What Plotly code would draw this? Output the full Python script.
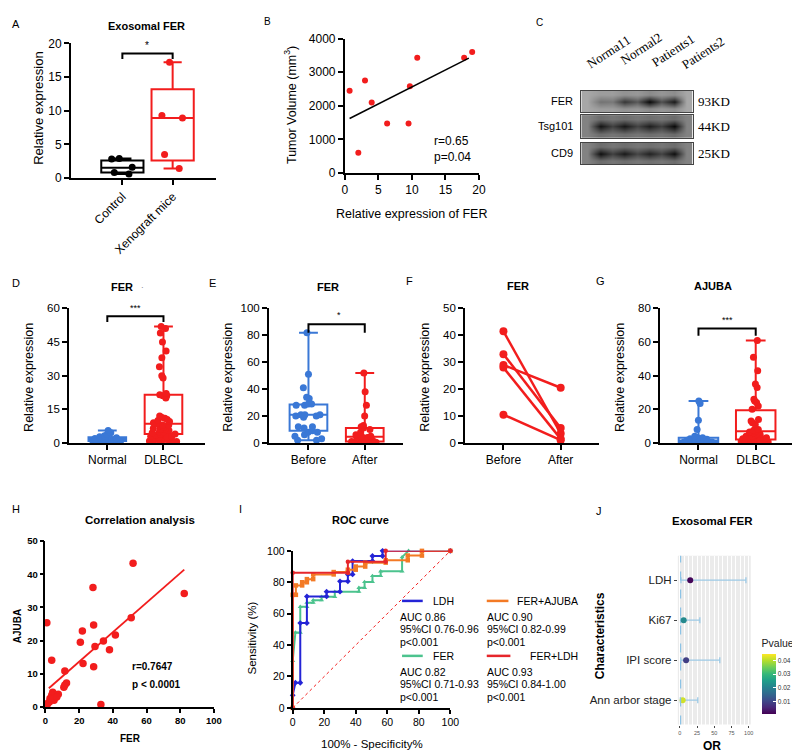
import numpy as np
import plotly.graph_objects as go

W, H = 800, 754
SANS = "Liberation Sans, Arial, sans-serif"
SERIF = "Liberation Serif, Times New Roman, serif"
RED = "#F21D1D"
BLUE = "#3A78D6"

# ---------------- data ----------------
# A
a_cats = ["Control", "Xenograft mice"]
a_q1 = [0.8, 2.6]; a_med = [1.5, 8.9]; a_q3 = [2.6, 13.2]; a_lo = [0.6, 1.4]; a_hi = [2.9, 17.2]
a_control = [2.9, 2.8, 1.6, 0.8, 0.6]
a_xeno = [17.2, 9.3, 8.9, 3.5, 1.4]
# B
b_fer = [0.7, 2.0, 3.0, 4.0, 6.3, 9.5, 9.7, 10.8, 17.8, 19.0]
b_vol = [2450, 600, 2750, 2100, 1470, 1470, 2580, 3430, 3430, 3600]
# C (band intensities, 0..1)
c_lanes = ["Norma11", "Normal2", "Patients1", "Patients2"]
c_rows = ["FER", "Tsg101", "CD9"]
c_kd = ["93KD", "44KD", "25KD"]
c_fer = [0.5, 0.78, 1.0, 0.92]
c_tsg = [0.95, 0.93, 0.9, 1.0]
c_cd9 = [0.97, 0.92, 0.88, 0.97]
c_bg = [0.22, 0.42, 0.42]
# D
d_cats = ["Normal", "DLBCL"]
d_q1 = [0.9, 4.0]; d_med = [1.6, 8.5]; d_q3 = [2.5, 21.5]; d_lo = [0.3, 0.5]; d_hi = [5.5, 52]
d_normal = [5.5, 4.5, 3.8, 3.2, 2.8, 2.5, 2.3, 2.1, 2.0, 1.8, 1.7, 1.5, 1.4, 1.2, 1.1, 1.0, 0.9, 0.8, 0.6, 0.5, 0.4, 0.3]
d_dlbcl = [52, 51, 49, 45, 41, 38, 34, 30, 29, 22, 21.5, 21, 21, 20, 12, 11.5, 11, 10.5, 10, 9.5, 9, 8.5, 8, 8,
           7.5, 7, 6.5, 6, 6, 5.5, 5, 5, 4.5, 4, 4, 3.5, 3, 3, 2.5, 2.5, 2, 2, 1.5, 1.5, 1, 1, 0.8, 0.6, 0.5, 0.5]
# E
e_cats = ["Before", "After"]
e_q1 = [9, 1]; e_med = [21, 4.5]; e_q3 = [28.5, 11]; e_lo = [2, 0.2]; e_hi = [82, 52]
e_before = [82, 51, 41, 34, 33, 29, 29, 28, 28, 21, 21, 21, 20, 20, 19, 12, 12, 11, 9, 8, 8, 6, 5, 3, 2, 2]
e_after = [52, 38, 28, 20, 13, 12, 11, 10, 8, 6, 5, 5, 4, 4, 3, 3, 2, 2, 1, 1, 0.5, 0.5, 0.3]
# F
f_before = [41.5, 33, 29, 28, 10.5]
f_after = [3.5, 5.5, 20.5, 1.5, 1.0]
# G
g_q1 = [0.5, 2]; g_med = [1.5, 7]; g_q3 = [3, 19.5]; g_lo = [0.2, 0.3]; g_hi = [25, 61]
g_normal = [25, 23.5, 13.5, 8, 4, 3.2, 3, 2.8, 2.5, 2.2, 2, 1.8, 1.6, 1.5, 1.3, 1.1, 1, 0.8, 0.6, 0.5, 0.3, 0.2]
g_dlbcl = [61, 51, 43, 35, 33, 26, 25, 24, 22, 20, 14, 13, 12, 11, 8, 7.5, 7, 6.5, 6, 5.5, 5, 4.5, 4, 4, 3.5,
           3, 3, 2.5, 2.5, 2, 2, 1.8, 1.5, 1.5, 1.2, 1, 1, 0.8, 0.5, 0.5, 0.3]
# H
h_fer = [0.8, 3.7, 11.5, 20.7, 21.9, 22.3, 28.2, 28.6, 29.4, 28.6, 34.4, 38.0, 41.5, 50.9, 52.0, 82.4, 32.9,
         12.5, 10.9, 7.6, 4.3, 3.7, 5.1, 2.3, 0.8, 1.2, 6.7, 11.5, 2.7]
h_ajuba = [25.4, 14.1, 10.8, 19.5, 22.9, 13.1, 36.0, 24.7, 18.2, 12.1, 19.9, 17.2, 21.7, 26.9, 43.3, 34.2, 0.7,
           7.2, 5.9, 3.8, 4.4, 3.5, 2.0, 1.5, 0.5, 1.0, 3.0, 6.6, 2.5]
# I (ROC)
ldh_fpr = [0, 0, 1.7, 4.8, 4.8, 9, 9, 21.5, 21.5, 30, 30, 35, 35, 38, 38, 50.6, 50.6, 57, 57, 100]
ldh_tpr = [0, 8, 16, 16, 54, 54, 71, 71, 74, 74, 80.6, 80.6, 85, 85, 93.5, 93.5, 96.7, 96.7, 100, 100]
fer_fpr = [0, 0, 1.7, 4.8, 4.8, 9, 9, 13, 13, 18.3, 18.3, 26.7, 26.7, 42, 42, 45.6, 45.6, 50.6, 50.6, 55.8,
           55.8, 69.4, 69.4, 73.5, 100]
fer_tpr = [0, 30, 48, 48, 64.4, 64.4, 67, 67, 68.6, 68.6, 70.7, 70.7, 74, 74, 76.5, 76.5, 80.2, 80.2, 84, 84,
           87, 87, 96, 100, 100]
fa_fpr = [0, 0, 2, 2, 6, 6, 9, 9, 13, 13, 26, 26, 35, 35, 40, 40, 46, 46, 59, 59, 73, 73, 82, 82, 100]
fa_tpr = [0, 72, 72, 78, 78, 80, 80, 82, 82, 85, 85, 86.5, 86.5, 88, 88, 90, 90, 92.5, 92.5, 94, 94, 97, 97, 100, 100]
fl_fpr = [0, 0, 35, 35, 59, 59, 100]
fl_tpr = [0, 86, 86, 93, 93, 100, 100]
roc_names = ["LDH", "FER+AJUBA", "FER", "FER+LDH"]
roc_auc = ["AUC 0.86", "AUC 0.90", "AUC 0.82", "AUC 0.93"]
roc_ci = ["95%CI 0.76-0.96", "95%CI 0.82-0.99", "95%CI 0.71-0.93", "95%CI 0.84-1.00"]
roc_p = ["p<0.001", "p<0.001", "p<0.001", "p<0.001"]
# J
j_chars = ["LDH", "Ki67", "IPI score", "Ann arbor stage"]
j_or = [15, 5.5, 9, 4]
j_low = [1.5, 1.0, 1.3, 0.6]
j_high = [96, 29, 58, 26]
j_p = [0.002, 0.022, 0.0095, 0.042]
j_ref = 1

# ---------------- helpers ----------------
fig = go.Figure()
layout = {}
annotations = []
shapes = []


def xd(a, b):
    return [a / W, b / W]


def yd(t, b):
    return [1 - b / H, 1 - t / H]


def keys(i):
    s = "" if i == 1 else str(i)
    return "xaxis" + s, "yaxis" + s, "x" + s, "y" + s


def gp(**kw):
    d = dict(showline=True, linecolor="black", linewidth=2, ticks="outside", ticklen=5, tickwidth=2,
             tickcolor="black", showgrid=False, zeroline=False, fixedrange=True,
             tickfont=dict(family=SANS, size=12, color="black"))
    d.update(kw)
    return d


def set_axes(i, xdom, ydom, xkw, ykw):
    xa, ya, xr, yr = keys(i)
    layout[xa] = dict(domain=xdom, anchor=yr, **xkw)
    layout[ya] = dict(domain=ydom, anchor=xr, **ykw)
    return xr, yr


def ann(x, y, text, size=11, bold=False, angle=0, xa="center", ya="middle", color="black", family=SANS):
    annotations.append(dict(x=x / W, y=1 - y / H, xref="paper", yref="paper", text=text, showarrow=False,
                            font=dict(family=family, size=size, color=color,
                                      weight="bold" if bold else "normal"),
                            textangle=angle, xanchor=xa, yanchor=ya))


def box_panel(xr, yr, cats, q1, med, q3, lo, hi, groups, colors, width, ww, msize=6, jitter=0.9):
    for k, c in enumerate(cats):
        fig.add_trace(go.Box(x=[c], q1=[q1[k]], median=[med[k]], q3=[q3[k]], lowerfence=[lo[k]],
                             upperfence=[hi[k]], boxpoints=False, line=dict(color=colors[k], width=2),
                             fillcolor="rgba(255,255,255,0)", width=width, whiskerwidth=ww,
                             xaxis=xr, yaxis=yr))
    for k, c in enumerate(cats):
        vals = groups[k]
        fig.add_trace(go.Box(x=[c] * len(vals), y=vals, boxpoints="all", jitter=jitter, pointpos=0,
                             marker=dict(color=colors[k], size=msize), line=dict(width=0, color="rgba(0,0,0,0)"),
                             fillcolor="rgba(0,0,0,0)", width=width, xaxis=xr, yaxis=yr))


def bracket(xr, yr, cats, top, bottom):
    fig.add_trace(go.Scatter(x=[cats[0], cats[0], cats[1], cats[1]], y=[bottom, top, top, bottom],
                             mode="lines", line=dict(color="black", width=2), xaxis=xr, yaxis=yr))


# ---------------- A ----------------
xr, yr = set_axes(1, xd(61, 208), yd(29, 166),
                  gp(type="category", categoryarray=a_cats, range=[-1.02, 1.86], tickangle=-45),
                  gp(range=[0, 20], dtick=5))
box_panel(xr, yr, a_cats, a_q1, a_med, a_q3, a_lo, a_hi, [a_control, a_xeno], ["black", RED], 0.84, 0.43,
          msize=7, jitter=0.6)
bracket(xr, yr, a_cats, 18.5, 17.7)
ann(5, 9, "A", 11)
ann(138, 11, "Exosomal FER", 11, bold=True)
ann(138, 31, "*", 10)
ann(28, 95, "Relative expression", 13, angle=-90)

# ---------------- B ----------------
xr, yr = set_axes(2, xd(339, 475), yd(24, 161), gp(range=[0, 20], dtick=5), gp(range=[0, 4000], dtick=1000))
fig.add_trace(go.Scatter(x=b_fer, y=b_vol, mode="markers", marker=dict(color=RED, size=6), xaxis=xr, yaxis=yr))
bk, bb = np.polyfit(b_fer, b_vol, 1)
bx = np.array([min(b_fer), 18.5])
fig.add_trace(go.Scatter(x=bx, y=bk * bx + bb, mode="lines", line=dict(color="black", width=1.5),
                         xaxis=xr, yaxis=yr))
ann(260, 7, "B", 10)
ann(427, 128, "r=0.65", 12, xa="left")
ann(427, 145, "p=0.04", 12, xa="left")
ann(284, 92, "Tumor Volume (mm<sup>3</sup>)", 12.5, angle=-90)
ann(407, 203, "Relative expression of FER", 12.5)

# ---------------- C (western blot) ----------------
row_px = [(77, 99), (102, 125), (130, 152)]
row_int = [c_fer, c_tsg, c_cd9]
for r in range(3):
    i = 3 + r
    xr, yr = set_axes(i, xd(579, 692), yd(*row_px[r]),
                      dict(range=[-0.5, 8.5], showline=True, mirror=True, linecolor="#444", linewidth=1,
                           showticklabels=False, ticks="", showgrid=False, zeroline=False, fixedrange=True),
                      dict(range=[-0.5, 2.5], showline=True, mirror=True, linecolor="#444", linewidth=1,
                           showticklabels=False, ticks="", showgrid=False, zeroline=False, fixedrange=True))
    bg = c_bg[r]
    vals = row_int[r]
    mid = [bg]
    for k, v in enumerate(vals):
        mid.append(v)
        if k < len(vals) - 1:
            mid.append(bg + 0.6 * ((vals[k] + vals[k + 1]) / 2 - bg))
    mid.append(bg)
    edge = [bg + 0.2 * (m - bg) for m in mid]
    z = [edge, mid, edge]
    fig.add_trace(go.Heatmap(z=z, x=list(range(9)), y=[0, 1, 2], zmin=0, zmax=1, zsmooth="best",
                             colorscale=[[0, "#cfcfcf"], [0.45, "#7d7d7d"], [1, "#080808"]],
                             showscale=False, xaxis=xr, yaxis=yr, hoverinfo="skip"))
    yc = (row_px[r][0] + row_px[r][1]) / 2
    ann(573, yc, c_rows[r], 11, xa="right")
    ann(695, yc, c_kd[r], 13, xa="left", family=SERIF)
lane_pos = [(607, 37), (640, 34), (672, 36), (703, 38)]
for k, name in enumerate(c_lanes):
    ann(lane_pos[k][0], lane_pos[k][1], name, 13, angle=-33, family=SERIF)
ann(537, 8, "C", 10)

# ---------------- D ----------------
xr, yr = set_axes(6, xd(59, 197), yd(299, 436),
                  gp(type="category", categoryarray=d_cats, range=[-0.68, 1.74]),
                  gp(range=[0, 60], dtick=15, tickfont=dict(family=SANS, size=11.5)))
box_panel(xr, yr, d_cats, d_q1, d_med, d_q3, d_lo, d_hi, [d_normal, d_dlbcl], [BLUE, RED], 0.67, 0.5, msize=7)
bracket(xr, yr, d_cats, 56.5, 53.9)
ann(5, 273, "D", 11)
ann(113, 277, "FER", 11, bold=True)
ann(133, 278, "·", 8, color="#666")
ann(126, 299, "***", 9)
ann(18, 369, "Relative expression", 12.5, angle=-90)

# ---------------- E ----------------
xr, yr = set_axes(7, xd(262, 398), yd(299, 436),
                  gp(type="category", categoryarray=e_cats, range=[-0.70, 1.68]),
                  gp(range=[0, 100], dtick=20, tickfont=dict(family=SANS, size=11.5)))
box_panel(xr, yr, e_cats, e_q1, e_med, e_q3, e_lo, e_hi, [e_before, e_after], [BLUE, RED], 0.67, 0.5, msize=7)
bracket(xr, yr, e_cats, 88.3, 82)
ann(205, 273, "E", 11)
ann(322, 277, "FER", 11, bold=True)
ann(333, 306, "*", 9)
ann(220, 369, "Relative expression", 12.5, angle=-90)

# ---------------- F ----------------
xr, yr = set_axes(8, xd(461, 597), yd(299, 436),
                  gp(type="category", categoryarray=e_cats, range=[-0.67, 1.67]),
                  gp(range=[0, 50], dtick=10, tickfont=dict(family=SANS, size=11.5)))
for b, a in zip(f_before, f_after):
    fig.add_trace(go.Scatter(x=e_cats, y=[b, a], mode="lines+markers", line=dict(color=RED, width=2.5),
                             marker=dict(color=RED, size=8), xaxis=xr, yaxis=yr))
ann(405, 271, "F", 11)
ann(515, 276, "FER", 11, bold=True)
ann(420, 369, "Relative expression", 12.5, angle=-90)

# ---------------- G ----------------
xr, yr = set_axes(9, xd(659, 795), yd(299, 436),
                  gp(type="category", categoryarray=d_cats, range=[-0.67, 1.67]),
                  gp(range=[0, 80], dtick=20, tickfont=dict(family=SANS, size=11.5)))
box_panel(xr, yr, d_cats, g_q1, g_med, g_q3, g_lo, g_hi, [g_normal, g_dlbcl], [BLUE, RED], 0.69, 0.5, msize=7)
bracket(xr, yr, d_cats, 68.1, 63.8)
ann(598, 271, "G", 11)
ann(713, 276, "AJUBA", 11, bold=True)
ann(727, 311, "***", 9)
ann(618, 369, "Relative expression", 12.5, angle=-90)

# ---------------- H ----------------
hfont = dict(family=SANS, size=9.5, color="black", weight="bold")
xr, yr = set_axes(10, xd(35, 206), yd(536, 705),
                  gp(range=[0, 100], dtick=20, tickfont=hfont, linewidth=1.5, tickwidth=1.5, ticklen=4),
                  gp(range=[0, 50], dtick=10, tickfont=hfont, linewidth=1.5, tickwidth=1.5, ticklen=4))
hk, hb = np.polyfit(h_fer, h_ajuba, 1)
hx = np.array([2.0, max(h_fer)])
fig.add_trace(go.Scatter(x=hx, y=hk * hx + hb, mode="lines", line=dict(color=RED, width=1.8),
                         xaxis=xr, yaxis=yr))
fig.add_trace(go.Scatter(x=h_fer, y=h_ajuba, mode="markers", marker=dict(color=RED, size=7.5),
                         xaxis=xr, yaxis=yr, cliponaxis=False))
ann(5, 503, "H", 11)
ann(131, 515, "Correlation analysis", 11.5, bold=True)
ann(121, 664, "r=0.7647", 10, bold=True, xa="left")
ann(121, 682, "p < 0.0001", 10, bold=True, xa="left")
ann(121, 737, "FER", 10, bold=True)
ann(7, 623, "AJUBA", 10, bold=True, angle=-90)

# ---------------- I (ROC) ----------------
ifont = dict(family=SANS, size=10.5, color="black")
xr, yr = set_axes(11, xd(286, 446), yd(546, 706),
                  gp(range=[0, 100], dtick=20, tickfont=ifont, ticklen=4),
                  gp(range=[0, 100], dtick=20, tickfont=ifont, ticklen=4))
fig.add_trace(go.Scatter(x=[0, 100], y=[0, 100], mode="lines", line=dict(color=RED, width=1, dash="dot"),
                         xaxis=xr, yaxis=yr))
roc_cols = {"LDH": "#2424D6", "FER+AJUBA": "#F37A25", "FER": "#4CC38E", "FER+LDH": "#E6262B"}
roc_sym = {"LDH": "diamond", "FER+AJUBA": "square", "FER": "triangle-up", "FER+LDH": "circle"}
roc_data = {"FER": (fer_fpr, fer_tpr), "LDH": (ldh_fpr, ldh_tpr), "FER+AJUBA": (fa_fpr, fa_tpr),
            "FER+LDH": (fl_fpr, fl_tpr)}
for name in ["FER", "LDH", "FER+AJUBA", "FER+LDH"]:
    fx, fy = roc_data[name]
    fig.add_trace(go.Scatter(x=fx, y=fy, mode="lines+markers", line=dict(color=roc_cols[name], width=2),
                             marker=dict(color=roc_cols[name], size=4.5, symbol=roc_sym[name]),
                             xaxis=xr, yaxis=yr, cliponaxis=False))
ann(233, 503, "I", 11)
ann(355, 515, "ROC curve", 11, bold=True)
ann(245, 635, "Sensitivity (%)", 11.5, angle=-90)
ann(367, 743, "100% - Specificity%", 11.5)
leg = {"LDH": (397, 418, 452, 393, 597), "FER+AJUBA": (483, 505, 578, 481, 597),
       "FER": (397, 418, 452, 393, 653), "FER+LDH": (483, 507, 578, 481, 653)}
for k, name in enumerate(roc_names):
    x0, x1, xt, xl, ly = leg[name]
    shapes.append(dict(type="line", xref="paper", yref="paper", x0=x0 / W, x1=x1 / W, y0=1 - ly / H,
                       y1=1 - ly / H, line=dict(color=roc_cols[name], width=2.5)))
    ann(xt, ly, name, 10.5, xa="right")
    ann(xl, ly + 16, roc_auc[k], 10.5, xa="left")
    ann(xl, ly + 29, roc_ci[k], 10.5, xa="left")
    ann(xl, ly + 42, roc_p[k], 10.5, xa="left")

# ---------------- J ----------------
xr, yr = set_axes(12, xd(677, 751), yd(551, 723),
                  dict(range=[-3, 103], tickvals=[0, 25, 50, 75, 100], showline=False, zeroline=False,
                       showgrid=True, gridcolor="white", gridwidth=0.8,
                       minor=dict(dtick=6.25, tick0=0, showgrid=True, gridcolor="white", gridwidth=0.4),
                       ticks="outside", ticklen=2.5, tickcolor="#444", tickwidth=0.8,
                       tickfont=dict(family=SANS, size=5.5, color="#555"), fixedrange=True),
                  dict(type="category", categoryarray=j_chars[::-1], range=[-0.61, 3.61], showline=False,
                       showgrid=False, zeroline=False, ticks="outside", ticklen=3, tickcolor="#444",
                       tickwidth=0.8, tickfont=dict(family=SANS, size=11.5, color="#222"), fixedrange=True))
shapes.append(dict(type="rect", xref="x12 domain", yref="y12 domain", x0=0, x1=1, y0=0, y1=1,
                   fillcolor="#EBEBEB", line=dict(width=0), layer="below"))
shapes.append(dict(type="line", xref="x12", yref="y12 domain", x0=j_ref, x1=j_ref, y0=0, y1=1,
                   line=dict(color="#8CC3E6", width=1.2, dash="dash")))
err_plus = [h - o for h, o in zip(j_high, j_or)]
err_minus = [o - l for o, l in zip(j_or, j_low)]
fig.add_trace(go.Scatter(x=j_or, y=j_chars, mode="markers",
                         error_x=dict(type="data", symmetric=False, array=err_plus, arrayminus=err_minus,
                                      color="#9DCAE6", thickness=1.3, width=3),
                         marker=dict(size=6, color=j_p, colorscale="Viridis", cmin=0.0015, cmax=0.045,
                                     colorbar=dict(x=762 / W, xanchor="left", y=1 - 672.5 / H, yanchor="middle",
                                                   len=77, lenmode="pixels", thickness=14, thicknessmode="pixels",
                                                   outlinewidth=0, xpad=0, ypad=0,
                                                   tickvals=[0.01, 0.02, 0.03, 0.04],
                                                   ticks="inside", tickcolor="white", ticklen=3,
                                                   tickfont=dict(family=SANS, size=6.5, color="#333"),
                                                   title=dict(text="Pvalue", side="top",
                                                              font=dict(family=SANS, size=10.5, color="#222")))),
                         xaxis=xr, yaxis=yr))
ann(597, 505, "J", 11)
ann(712, 516, "Exosomal FER", 11.5, bold=True)
ann(598, 633, "Characteristics", 12, bold=True, angle=-90)
ann(712, 745, "OR", 12, bold=True)

fig.update_layout(width=W, height=H, margin=dict(l=0, r=0, t=0, b=0), paper_bgcolor="white",
                  plot_bgcolor="white", showlegend=False, boxmode="overlay",
                  annotations=annotations, shapes=shapes, font=dict(family=SANS, color="black"), **layout)
fig.write_html("out.html")
